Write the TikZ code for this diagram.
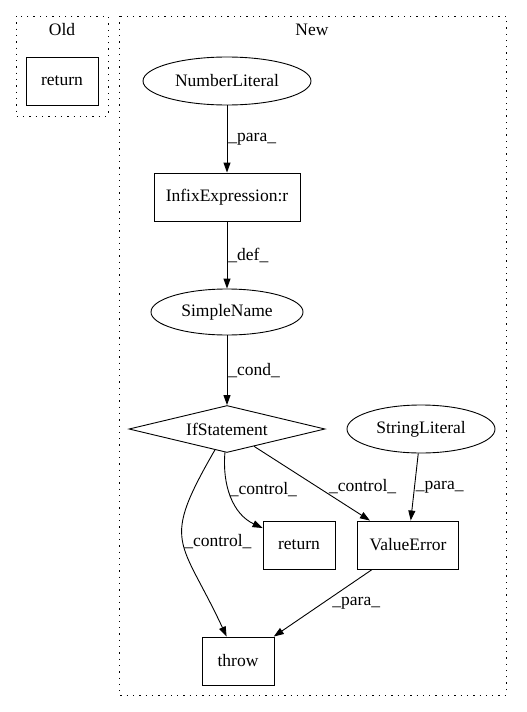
\documentclass[tikz,border=0pt]{standalone}
\usepackage{fontspec}
\setmainfont{Liberation Serif}
\usetikzlibrary{arrows,arrows.meta,shapes.geometric}

\begin{document}
\begin{tikzpicture}[x=1pt,y=-1pt,font=\fontsize{17.5}{20}\selectfont]
\tikzstyle{block} = [rectangle, draw, line width=0.9pt, inner sep=0pt,
minimum height=48pt]
\tikzstyle{literal} = [ellipse, draw, line width=0.9pt, inner sep=0pt,
minimum height=48pt]
\tikzstyle{decision} = [diamond, draw, line width=0.9pt, inner sep=0pt,
aspect=4.2, minimum width=196pt, minimum height=47pt]
\tikzstyle{cluster} = [draw, line width=0.9pt, dash pattern=on 1.3pt off 5pt]
\tikzstyle{line} = [draw, line width=0.9pt, >={Triangle[length=10pt,width=7pt]}, ->];
\tikzstyle{lbl} = [inner sep=1pt];
\useasboundingbox (0,0) rectangle (527,712);
% clusters
\path[cluster] (16,16) rectangle (108,116);
\path[cluster] (119,16) rectangle (506,695);
\node (oldtitle) at (62,30) {Old};
\node (newtitle) at (312,30) {New};
% old
\node [block, minimum width=72pt] (oldret) at (62,81) {return};
% new, row 1
\node [literal, minimum width=168pt] (numlit) at (227,81) {NumberLiteral};
% row 2
\node [block, minimum width=146pt] (infix) at (227,197) {InfixExpression:r};
% row 3
\node [literal, minimum width=152pt, minimum height=46pt] (simple) at (227,312) {SimpleName};
% row 4
\node [decision] (ifs) at (227,429) {IfStatement};
\node [literal, minimum width=148pt] (strlit) at (421,429) {StringLiteral};
% row 5
\node [block, minimum width=72pt] (ret) at (299,545) {return};
\node [block, minimum width=101pt] (valerr) at (408,545) {ValueError};
% row 6
\node [block, minimum width=72pt] (throw) at (238,661) {throw};
\tikzstyle{every path}=[line]
\path (numlit) -- node [lbl,right] {\_para\_} (infix);
\path (infix) -- node [lbl,right] {\_def\_} (simple);
\path (simple) -- node [lbl,right] {\_cond\_} (ifs);
\path (ifs) to [out=-95,in=155] node [lbl,pos=0.4,right] {\_control\_} (ret);
\path (ifs) -- node [lbl,pos=0.54,right,xshift=11pt] {\_control\_} (valerr);
\path (ifs) to [out=-120,in=115,looseness=1.5] node [lbl,pos=0.5,right] {\_control\_} (throw);
\path (strlit) -- node [lbl,right] {\_para\_} (valerr);
\path (valerr) -- node [lbl,right,xshift=8pt] {\_para\_} (throw);
\end{tikzpicture}
\end{document}
